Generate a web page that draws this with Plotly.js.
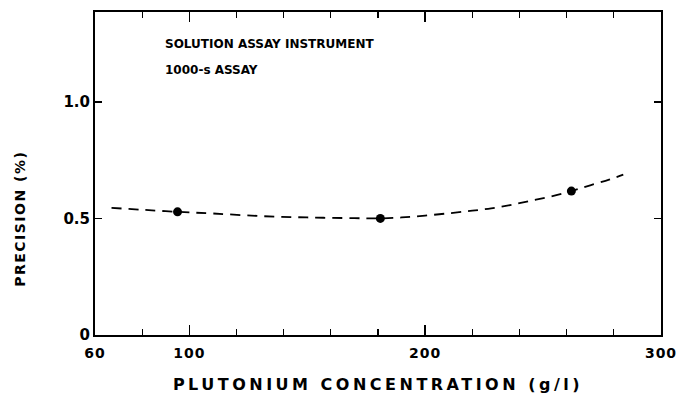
<!DOCTYPE html>
<html>
<head>
<meta charset="utf-8">
<script src="https://cdn.plot.ly/plotly-3.0.1.min.js"></script>
<style>
html,body{margin:0;padding:0;background:#fff;}
#chart{width:682px;height:404px;}
</style>
</head>
<body>
<div id="chart"></div>
<script>
// Measured points
var concentration = [95, 181, 262];
var precision = [0.528, 0.500, 0.617];

// Dashed fitted curve
var curveX = [67, 80, 95, 110, 130, 150, 170, 181, 190, 200, 211, 220, 228, 236, 244, 253, 262, 270, 278, 284];
var curveY = [0.545, 0.537, 0.528, 0.521, 0.510, 0.504, 0.501, 0.500, 0.504, 0.512, 0.523, 0.533, 0.543, 0.557, 0.574, 0.593, 0.617, 0.642, 0.666, 0.688];

// Tick labels
var xTickVals = [60, 100, 200, 300];
var xTickText = ['60', '100', '200', '300'];
var yTickVals = [0, 0.5, 1.0];
var yTickText = ['0', '0.5', '1.0'];

var FONT = 'DejaVu Sans, Arial, sans-serif';

var traces = [
  {x: curveX, y: curveY, mode: 'lines', type: 'scatter',
   line: {color: '#000', width: 1.8, dash: '10px,7px', shape: 'spline'}, hoverinfo: 'skip'},
  {x: concentration, y: precision, mode: 'markers', type: 'scatter',
   marker: {color: '#000', size: 9}}
];

var layout = {
  width: 682, height: 404,
  margin: {l: 95, r: 21, t: 12, b: 69},
  paper_bgcolor: '#fff', plot_bgcolor: '#fff',
  showlegend: false,
  font: {family: FONT, color: '#000', size: 14},
  xaxis: {
    range: [60, 300], tickmode: 'array', tickvals: xTickVals, ticktext: xTickText,
    ticks: 'inside', ticklen: 10, tickwidth: 1.5, tickcolor: '#000',
    minor: {tickmode: 'linear', tick0: 60, dtick: 20, ticks: 'inside', ticklen: 6, tickwidth: 1.2, tickcolor: '#000'},
    showline: true, linecolor: '#000', linewidth: 2, mirror: 'ticks',
    showgrid: false, zeroline: false, ticklabelstandoff: 4,
    tickfont: {family: FONT, size: 14, weight: 'bold', color: '#000'},
    title: {text: 'PLUTONIUM CONCENTRATION (g/l)', standoff: 19,
            font: {family: FONT, size: 16, weight: 'bold', color: '#000'}}
  },
  yaxis: {
    range: [0, 1.385], tickmode: 'array', tickvals: yTickVals, ticktext: yTickText,
    ticks: 'inside', ticklen: 7, tickwidth: 1.5, tickcolor: '#000',
    showline: true, linecolor: '#000', linewidth: 2, mirror: 'ticks',
    showgrid: false, zeroline: false,
    tickfont: {family: FONT, size: 15, weight: 'bold', color: '#000'}
  },
  annotations: [
    {text: 'PRECISION (%)', xref: 'paper', yref: 'paper', x: -0.1325, y: 0.359,
     xanchor: 'center', yanchor: 'middle', textangle: -90, showarrow: false,
     font: {family: FONT, size: 14, weight: 'bold', color: '#000'}},
    {text: 'SOLUTION ASSAY INSTRUMENT', xref: 'paper', yref: 'paper', x: 0.12, y: 0.901,
     xanchor: 'left', yanchor: 'middle', showarrow: false,
     font: {family: FONT, size: 12, weight: 'bold', color: '#000'}},
    {text: '1000-s ASSAY', xref: 'paper', yref: 'paper', x: 0.12, y: 0.820,
     xanchor: 'left', yanchor: 'middle', showarrow: false,
     font: {family: FONT, size: 12, weight: 'bold', color: '#000'}}
  ]
};

Plotly.newPlot('chart', traces, layout, {displayModeBar: false, staticPlot: true}).then(function(){
  document.querySelectorAll('.xtitle').forEach(function(el){ el.style.letterSpacing = '3.5px'; });
  document.querySelectorAll('.annotation-text').forEach(function(el){
    if (el.textContent === 'PRECISION (%)') el.style.letterSpacing = '1.5px';
  });
  document.querySelectorAll('.xtick text').forEach(function(el){ el.style.letterSpacing = '1px'; });
});
</script>
</body>
</html>
